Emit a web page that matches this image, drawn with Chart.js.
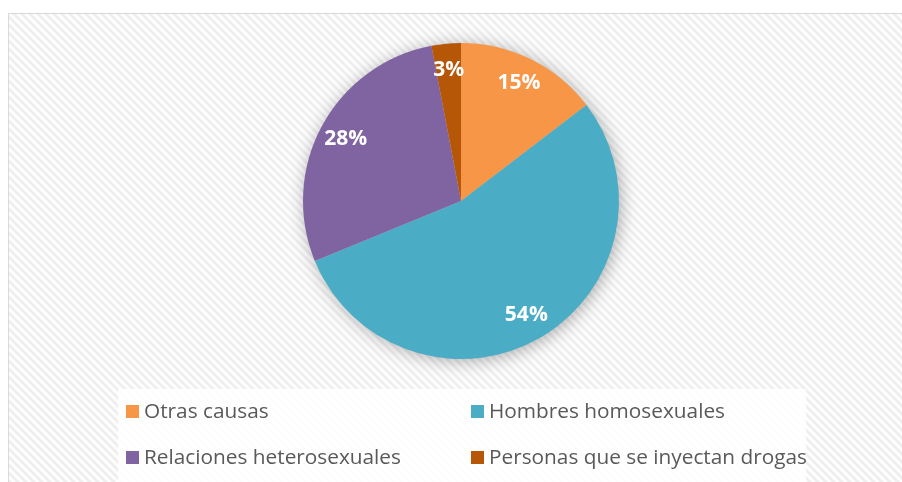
<!DOCTYPE html>
<html>
<head>
<meta charset="utf-8">
<script src="https://cdn.jsdelivr.net/npm/chart.js@4.4.1/dist/chart.umd.min.js"></script>
<style>
  html, body { margin: 0; padding: 0; background: #ffffff; }
  #wrap { position: relative; width: 902px; height: 482px; }
</style>
</head>
<body>
<div id="wrap"><canvas id="c" width="902" height="482"></canvas></div>
<script>
// ---- data ----
const categories = ["Otras causas", "Hombres homosexuales", "Relaciones heterosexuales", "Personas que se inyectan drogas"];
const shares = [14.6, 54.2, 28.2, 3.0];
const sliceColors = ["#F79646", "#4BACC6", "#8064A2", "#B65708"];

// hatched background pattern
function makePattern(ctx) {
  const p = document.createElement('canvas');
  p.width = 8; p.height = 8;
  const g = p.getContext('2d');
  g.fillStyle = '#fefefe';
  g.fillRect(0, 0, 8, 8);
  g.strokeStyle = '#efefef';
  g.lineWidth = 3;
  for (const o of [-8, 0, 8]) {
    g.beginPath();
    g.moveTo(o - 1, -1);
    g.lineTo(o + 9, 9);
    g.stroke();
  }
  return ctx.createPattern(p, 'repeat');
}

const backgroundPlugin = {
  id: 'bg',
  beforeDraw(chart) {
    const ctx = chart.ctx;
    ctx.save();
    ctx.fillStyle = '#ffffff';
    ctx.fillRect(0, 0, chart.width, chart.height);
    ctx.fillStyle = makePattern(ctx);
    ctx.fillRect(8, 13, chart.width - 8, chart.height - 13);
    ctx.strokeStyle = '#d9d9d9';
    ctx.lineWidth = 1;
    ctx.beginPath();
    ctx.moveTo(8.5, chart.height);
    ctx.lineTo(8.5, 13.5);
    ctx.lineTo(chart.width, 13.5);
    ctx.stroke();
    ctx.restore();
  }
};

const shadowPlugin = {
  id: 'pieShadow',
  beforeDatasetsDraw(chart) {
    const arc = chart.getDatasetMeta(0).data[0];
    if (!arc) return;
    const ctx = chart.ctx;
    ctx.save();
    ctx.shadowColor = 'rgba(0,0,0,0.35)';
    ctx.shadowBlur = 18;
    ctx.shadowOffsetX = 2;
    ctx.shadowOffsetY = 2;
    ctx.fillStyle = '#cccccc';
    ctx.beginPath();
    ctx.arc(arc.x, arc.y, arc.outerRadius - 1, 0, Math.PI * 2);
    ctx.fill();
    ctx.restore();
  }
};

const labelPlugin = {
  id: 'sliceLabels',
  afterDatasetsDraw(chart) {
    const ctx = chart.ctx;
    const meta = chart.getDatasetMeta(0);
    const vals = chart.data.datasets[0].data;
    const total = vals.reduce((a, b) => a + b, 0);
    ctx.save();
    ctx.font = 'bold 21px "Open Sans"';
    ctx.fillStyle = '#ffffff';
    ctx.textAlign = 'center';
    ctx.textBaseline = 'middle';
    meta.data.forEach((arc, i) => {
      const mid = (arc.startAngle + arc.endAngle) / 2;
      const r = arc.outerRadius * 0.83;
      const x = arc.x + Math.cos(mid) * r;
      const y = arc.y + Math.sin(mid) * r;
      ctx.fillText(Math.round(vals[i] / total * 100) + '%', x, y);
    });
    ctx.restore();
  }
};

const legendPlugin = {
  id: 'gridLegend',
  afterDraw(chart) {
    const ctx = chart.ctx;
    ctx.save();
    ctx.fillStyle = 'rgba(255,255,255,0.85)';
    ctx.fillRect(118, 389, 688, 93);
    ctx.font = '20.8px "Open Sans"';
    ctx.textBaseline = 'middle';
    ctx.textAlign = 'left';
    const colX = [126, 471];
    const rowY = [411, 457];
    chart.data.labels.forEach((lab, i) => {
      const x = colX[i % 2];
      const y = rowY[Math.floor(i / 2)];
      ctx.fillStyle = chart.data.datasets[0].backgroundColor[i];
      ctx.fillRect(x, y - 6, 13, 13);
      ctx.fillStyle = '#595959';
      ctx.fillText(lab, x + 18, y + 1);
    });
    ctx.restore();
  }
};

new Chart(document.getElementById('c'), {
  type: 'pie',
  data: {
    labels: categories,
    datasets: [{
      data: shares,
      backgroundColor: sliceColors,
      borderWidth: 0
    }]
  },
  options: {
    responsive: false,
    animation: false,
    devicePixelRatio: 1,
    layout: { padding: { left: 200, right: 180, top: 43, bottom: 123 } },
    plugins: {
      legend: { display: false },
      tooltip: { enabled: false }
    }
  },
  plugins: [backgroundPlugin, shadowPlugin, labelPlugin, legendPlugin]
});
</script>
</body>
</html>
